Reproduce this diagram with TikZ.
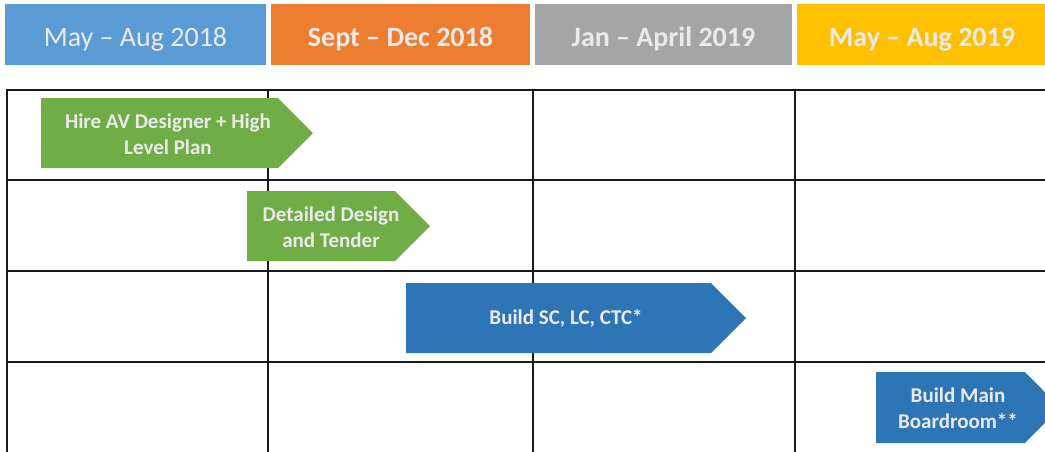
\documentclass[tikz,border=0pt]{standalone}
\usepackage{fontspec}
\setmainfont{Carlito}
\definecolor{hdrblue}{HTML}{5B9BD5}
\definecolor{hdrorange}{HTML}{ED7D31}
\definecolor{hdrgray}{HTML}{A5A5A5}
\definecolor{hdryellow}{HTML}{FFC000}
\definecolor{taskgreen}{HTML}{70AD47}
\definecolor{taskblue}{HTML}{2E75B6}
\definecolor{labeltext}{HTML}{EAEAEA}
\definecolor{gridline}{HTML}{1A1A1A}
\begin{document}
\begin{tikzpicture}[x=1pt,y=-1pt,
  header/.style={anchor=north west,inner sep=0pt,outer sep=0pt,
    minimum height=61pt,text height=29pt,text depth=6pt,
    text=labeltext,font=\fontsize{28}{32}\selectfont},
  boldheader/.style={header,font=\fontsize{28}{32}\selectfont\bfseries},
  gridrule/.style={draw=gridline,line width=1.8pt},
  tasklabel/.style={inner sep=0pt,align=center,text=labeltext,
    font=\fontsize{21}{25.5}\selectfont\bfseries}]
\useasboundingbox (0,0) rectangle (1045,451);
\clip (0,0) rectangle (1045,451);

% period headers
\node[header,fill=hdrblue,minimum width=261pt] (h1) at (5,4) {May – Aug 2018};
\node[boldheader,fill=hdrorange,minimum width=259pt] (h2) at (271,4) {Sept – Dec 2018};
\node[boldheader,fill=hdrgray,minimum width=257pt] (h3) at (535,4) {Jan – April 2019};
\node[boldheader,fill=hdryellow,minimum width=250pt] (h4) at (797,4) {May – Aug 2019};

% timeline grid
\draw[gridrule] (7,90) -- (1046,90);
\draw[gridrule] (7,180) -- (1046,180);
\draw[gridrule] (7,271) -- (1046,271);
\draw[gridrule] (7,362) -- (1046,362);
\foreach \gx in {7,268,533,795}
  \draw[gridrule] (\gx,89.1) -- (\gx,452);

% task arrows (pentagon shapes)
\fill[taskgreen] (41,98) -- (278,98) -- (313,133) -- (278,168) -- (41,168) -- cycle;
\node[tasklabel] (t1) at (168,134) {Hire AV Designer + High\\Level Plan};

\fill[taskgreen] (247,191) -- (395,191) -- (430,226) -- (395,261) -- (247,261) -- cycle;
\node[tasklabel] (t2) at (331,227) {Detailed Design\\and Tender};

\fill[taskblue] (406,283) -- (711,283) -- (746,318) -- (711,353) -- (406,353) -- cycle;
\node[tasklabel] (t3) at (566,318) {Build SC, LC, CTC*};

\fill[taskblue] (876,372) -- (1025,372) -- (1060,407.5) -- (1025,443) -- (876,443) -- cycle;
\node[tasklabel] (t4) at (958,408) {Build Main\\Boardroom**};
\end{tikzpicture}
\end{document}
